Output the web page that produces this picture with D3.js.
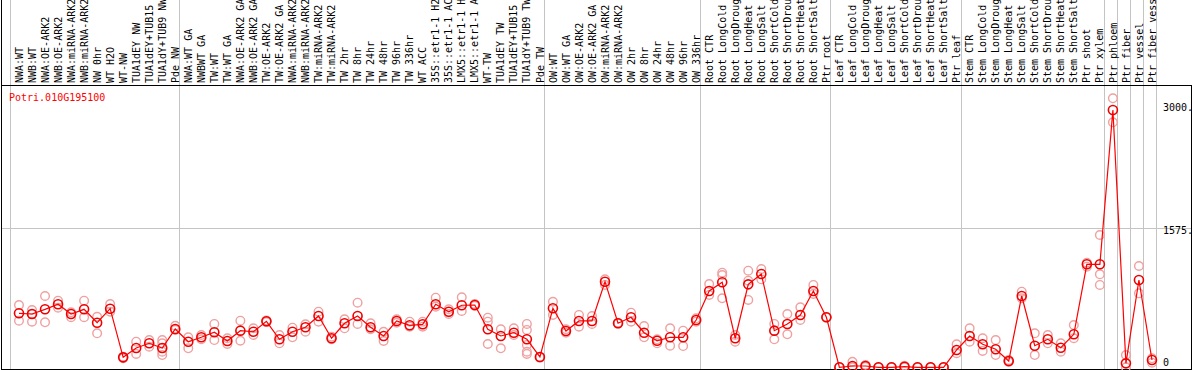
<!DOCTYPE html>
<html>
<head>
<meta charset="utf-8">
<script src="https://cdn.jsdelivr.net/npm/d3@7/dist/d3.min.js"></script>
<style>
  body { margin: 0; background: #fff; }
  text { font-family: "DejaVu Sans Mono", monospace; font-size: 10px; }
</style>
</head>
<body>
<div id="chart"></div>
<script>
/* gene title */
var geneName = "Potri.010G195100";

/* sample labels, in plot order */
var labels = [
  "NWA:WT","NWB:WT","NWA:OE-ARK2","NWB:OE-ARK2","NWA:miRNA-ARK2","NWB:miRNA-ARK2","NW 0hr","WT H2O","WT-NW","TUA1dEY NW","TUA1dEY+TUB15 NW","TUA1dY+TUB9 NW","Pde NW",
  "NWA:WT GA","NWBWT GA","TW:WT","TW:WT GA","NWA:OE-ARK2 GA","NWB:OE-ARK2 GA","TW:OE-ARK2","TW:OE-ARK2 GA","NWA:miRNA-ARK2","NWB:miRNA-ARK2","TW:miRNA-ARK2","TW:miRNA-ARK2","TW 2hr","TW 8hr","TW 24hr","TW 48hr","TW 96hr","TW 336hr","WT ACC","35S::etr1-1 H2O","35S::etr1-1 ACC","LMX5::etr1-1 H2O","LMX5::etr1-1 ACC","WT-TW","TUA1dEY TW","TUA1dEY+TUB15 TW","TUA1dY+TUB9 TW","Pde TW",
  "OW:WT","OW:WT GA","OW:OE-ARK2","OW:OE-ARK2 GA","OW:miRNA-ARK2","OW:miRNA-ARK2","OW 2hr","OW 8hr","OW 24hr","OW 48hr","OW 96hr","OW 336hr",
  "Root CTR","Root LongCold","Root LongDrought","Root LongHeat","Root LongSalt","Root ShortCold","Root ShortDrought","Root ShortHeat","Root ShortSalt","Ptr root",
  "Leaf CTR","Leaf LongCold","Leaf LongDrought","Leaf LongHeat","Leaf LongSalt","Leaf ShortCold","Leaf ShortDrought","Leaf ShortHeat","Leaf ShortSalt","Ptr leaf",
  "Stem CTR","Stem LongCold","Stem LongDrought","Stem LongHeat","Stem LongSalt","Stem ShortCold","Stem ShortDrought","Stem ShortHeat","Stem ShortSalt","Ptr shoot","Ptr xylem",
  "Ptr phloem","Ptr fiber","Ptr vessel","Ptr fiber vessel"
];

/* how many samples in each experiment block */
var groupSizes = [13, 28, 12, 10, 10, 11, 1, 1, 1, 1];

/* mean expression per sample */
var means = [
  612, 604, 657, 714, 604, 657, 505, 664, 113, 219, 272, 219, 434,
  290, 340, 397, 298, 415, 403, 521, 317, 403, 453, 581, 329, 499, 581, 453, 355, 525, 476, 487, 714, 630, 703, 706, 431, 355, 392, 317, 117,
  669, 411, 525, 525, 970, 499, 567, 392, 301, 340, 340, 536,
  865, 963, 329, 940, 1057, 415, 491, 593, 865, 567,
  0, 15, 15, 0, 0, 7, 0, 0, 0, 196,
  355, 261, 204, 71, 808, 245, 317, 222, 374, 1167, 1167,
  2915, 45, 989, 83
];

/* replicate values per sample */
var replicates = [
  [706, 528], [649, 517, 604], [808, 510], [755, 675], [623, 567], [755, 567], [573, 385], [717, 630], [120, 102], [290, 151], [309, 233], [309, 272, 177, 139], [471, 423],
  [340, 215], [366, 317], [491, 309], [329, 264], [528, 301], [442, 366], [530, 512], [366, 272], [449, 340], [487, 403], [630, 517], [347, 317], [544, 442], [732, 491], [499, 431], [403, 298], [544, 505], [517, 460], [517, 460], [789, 687], [657, 604], [793, 638], [717, 695], [562, 517, 264], [431, 215], [442, 366], [491, 423, 253, 177, 151], [117, 110],
  [743, 593], [431, 392], [593, 460], [581, 491], [997, 933], [505, 495], [619, 517], [468, 340], [317, 272], [442, 245], [415, 241], [555, 517],
  [944, 819], [1072, 1046, 782], [366, 290], [1095, 981, 763], [1114, 997], [491, 317], [604, 374], [680, 536], [933, 831], [570, 565],
  [0, 0], [63, 0], [26, 5], [0, 0], [0, 0], [18, 0], [0, 0], [0, 0], [0, 0], [261, 159],
  [442, 290], [329, 185], [309, 139], [83, 60], [857, 782], [385, 139], [366, 272], [272, 177], [479, 329], [1185, 1140], [1499, 1054, 933],
  [3048, 2776], [139, 0], [1148, 838], [102, 52]
];

/* y axis labels */
var tickValues = [0, 1575, 3000];
var tickLabels = ["0", "1575.", "3000."];
var yMax = 3150;

function draw() {
  "use strict";

  var W = 1194, H = 370;
  var plotLeft = 10, plotRight = 1156;
  var headerBottom = 85.5, plotBottom = 369.5;

  var svg = d3.select("#chart").append("svg")
      .attr("width", W)
      .attr("height", H);

  var x = d3.scaleBand()
      .domain(d3.range(labels.length))
      .range([plotLeft, plotRight]);
  var px = function (i) { return x(i) + x.bandwidth() * 0.69; };

  var y = d3.scaleLinear()
      .domain([0, yMax])
      .range([367.3, 89.3]);

  /* vertical block separators */
  var bounds = [0];
  groupSizes.forEach(function (n) { bounds.push(bounds[bounds.length - 1] + n); });
  svg.selectAll("line.vgrid")
    .data(bounds)
    .enter().append("line")
      .attr("class", "vgrid")
      .attr("x1", function (b) { return Math.round(plotLeft + b * x.step()) + 0.5; })
      .attr("x2", function (b) { return Math.round(plotLeft + b * x.step()) + 0.5; })
      .attr("y1", 0).attr("y2", plotBottom)
      .attr("stroke", "#c4c4c4");

  /* middle horizontal grid */
  svg.append("line")
      .attr("x1", 1).attr("x2", 1191)
      .attr("y1", Math.round(y(1575)) + 0.5).attr("y2", Math.round(y(1575)) + 0.5)
      .attr("stroke", "#c4c4c4");

  /* frame */
  var frame = svg.append("g").attr("stroke", "#000").attr("fill", "none");
  frame.append("line").attr("x1", 1.5).attr("x2", 1.5).attr("y1", 0).attr("y2", plotBottom);
  frame.append("line").attr("x1", 1191.5).attr("x2", 1191.5).attr("y1", headerBottom).attr("y2", plotBottom);
  frame.append("line").attr("x1", 1).attr("x2", 1192).attr("y1", headerBottom).attr("y2", headerBottom);
  frame.append("line").attr("x1", 1).attr("x2", 1192).attr("y1", plotBottom).attr("y2", plotBottom);

  /* sample labels, rotated */
  svg.selectAll("text.sample")
    .data(labels)
    .enter().append("text")
      .attr("class", "sample")
      .attr("transform", function (d, i) { return "translate(" + px(i) + ",83) rotate(-90)"; })
      .attr("dy", "0.36em")
      .attr("fill", "#000")
      .text(function (d) { return d; });

  /* title */
  svg.append("text")
      .attr("x", 9).attr("y", 101)
      .attr("fill", "#ff0000")
      .text(geneName);

  /* y labels */
  svg.selectAll("text.ylab")
    .data(tickValues)
    .enter().append("text")
      .attr("class", "ylab")
      .attr("x", 1163)
      .attr("y", function (v) { return Math.min(Math.max(y(v) + 2, 107), 362); })
      .attr("dominant-baseline", "central")
      .attr("fill", "#000")
      .text(function (v, i) { return tickLabels[i]; });

  /* replicate circles */
  var repPts = [];
  replicates.forEach(function (r, i) { r.forEach(function (v) { repPts.push([i, v]); }); });
  svg.selectAll("circle.rep")
    .data(repPts)
    .enter().append("circle")
      .attr("class", "rep")
      .attr("cx", function (d) { return px(d[0]); })
      .attr("cy", function (d) { return y(d[1]); })
      .attr("r", 4.3)
      .attr("fill", "none")
      .attr("stroke", "#f0a0a0")
      .attr("stroke-width", 1.4);

  /* mean line */
  var line = d3.line()
      .x(function (d, i) { return px(i); })
      .y(function (d) { return y(d); });
  svg.append("path")
      .datum(means)
      .attr("d", line)
      .attr("fill", "none")
      .attr("stroke", "#ff0000")
      .attr("stroke-width", 1.2);

  /* mean circles */
  svg.selectAll("circle.mean")
    .data(means)
    .enter().append("circle")
      .attr("class", "mean")
      .attr("cx", function (d, i) { return px(i); })
      .attr("cy", function (d) { return y(d); })
      .attr("r", 4.5)
      .attr("fill", "none")
      .attr("stroke", "#ee0000")
      .attr("stroke-width", 1.6);
}

draw();
</script>
</body>
</html>
